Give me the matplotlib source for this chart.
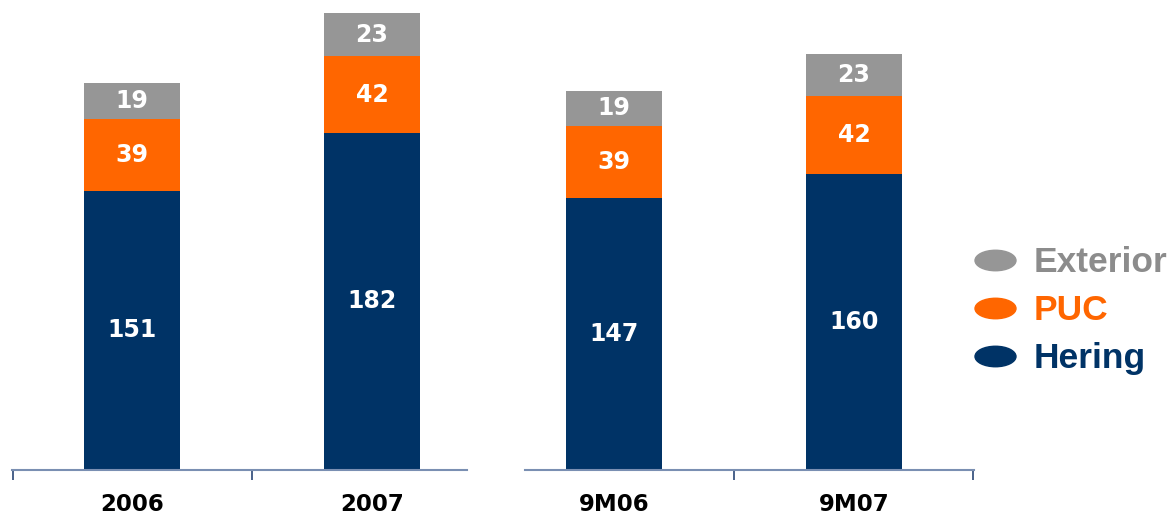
import matplotlib
matplotlib.use("Agg")
import matplotlib.pyplot as plt
from matplotlib.path import Path
from matplotlib.transforms import Affine2D
from matplotlib.lines import Line2D
import numpy as np

plt.rcParams['font.family'] = ['Liberation Sans', 'DejaVu Sans']

left_categories = ["2006", "2007"]
right_categories = ["9M06", "9M07"]
series_names = ["Hering", "PUC", "Exterior"]
hering_left = [151, 182]
puc_left = [39, 42]
exterior_left = [19, 23]
hering_right = [147, 160]
puc_right = [39, 42]
exterior_right = [19, 23]

colors = {"Hering": "#003366", "PUC": "#FF6600", "Exterior": "#969696"}
text_colors = {"Hering": "#003366", "PUC": "#FF6600", "Exterior": "#8C8C8C"}
spine_color = "#7A8FB2"
tick_color = "#3A5580"

W, H = 1176, 517
fig = plt.figure(figsize=(W / 100, H / 100), dpi=100)

y_bottom = 469.5
ymax = 254.2
ax_l = fig.add_axes([12 / W, (H - y_bottom) / H, 480 / W, y_bottom / H])
ax_r = fig.add_axes([494 / W, (H - y_bottom) / H, 480 / W, y_bottom / H])

def draw(ax, cats, hering, puc, ext):
    x = np.arange(len(cats))
    bottom = np.zeros(len(cats))
    for name, vals in zip(series_names, [hering, puc, ext]):
        bars = ax.bar(x, vals, width=0.4, bottom=bottom, color=colors[name], linewidth=0)
        for b, v, bt in zip(bars, vals, bottom):
            ax.text(b.get_x() + b.get_width() / 2, bt + v / 2, str(v), ha="center", va="center",
                    color="white", fontsize=17, fontweight="bold", family="DejaVu Sans")
        bottom = bottom + np.array(vals)
    ax.set_xlim(-0.5, 1.5)
    ax.set_ylim(0, ymax)
    ax.set_xticks(x)
    ax.set_xticklabels(cats, fontsize=16.5, fontweight="bold", family="DejaVu Sans")
    ax.tick_params(axis="x", which="major", length=0, pad=17)
    ax.set_yticks([])
    for s in ["left", "right", "top"]:
        ax.spines[s].set_visible(False)
    ax.spines["bottom"].set_color(spine_color)
    ax.spines["bottom"].set_linewidth(1.5)
    ax.tick_params(axis="x", which="minor", length=7, color=tick_color, width=1.3)

draw(ax_l, left_categories, hering_left, puc_left, exterior_left)
draw(ax_r, right_categories, hering_right, puc_right, exterior_right)
ax_l.set_xticks([-0.495, 0.5], minor=True)
ax_l.spines["bottom"].set_bounds(-0.5, 1.396)
ax_r.set_xticks([0.5, 1.495], minor=True)
ax_r.spines["bottom"].set_bounds(-0.371, 1.5)

legend_order = ["Exterior", "PUC", "Hering"]
ellipse = Path.unit_circle().transformed(Affine2D().scale(1.0, 0.5))
handles = [Line2D([], [], linestyle="none", marker=ellipse, markersize=29.5,
                  markerfacecolor=colors[n], markeredgecolor=colors[n]) for n in legend_order]
leg = fig.legend(handles, legend_order, loc="upper left",
                 bbox_to_anchor=(958 / W, 1 - 232 / H), frameon=False,
                 prop={"size": 25.5, "weight": "bold"}, labelspacing=0.42,
                 handlelength=1.28, handletextpad=0.45, borderaxespad=0)
for t, n in zip(leg.get_texts(), legend_order):
    t.set_color(text_colors[n])

fig.savefig("out.png", dpi=100)
